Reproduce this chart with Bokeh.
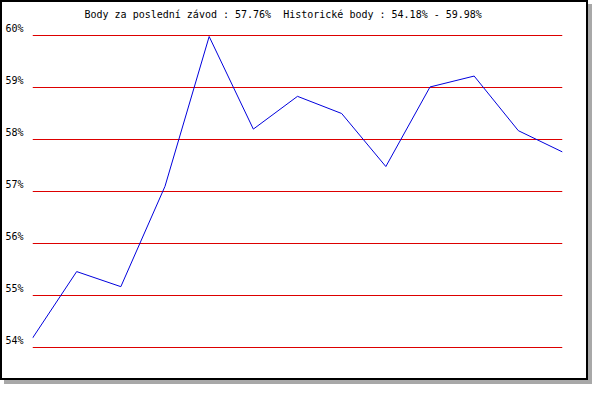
from bokeh.plotting import figure
from bokeh.models import FixedTicker, CustomJSTickFormatter, Range1d
from bokeh.core.properties import value
from bokeh.embed import file_html
from bokeh.resources import INLINE

# ---- data ----
races = list(range(1, 14))
points = [54.18, 55.46, 55.17, 57.10, 59.98, 58.20, 58.83, 58.50, 57.48, 59.01, 59.22, 58.17, 57.76]
y_ticks = [54, 55, 56, 57, 58, 59, 60]
title_text = "Body za poslední závod : 57.76%\u00a0 Historické body : 54.18% - 59.98%"

FONT = "DejaVu Sans Mono"
PX_PER_UNIT = 52.0

p = figure(width=588, height=380, output_backend="svg", toolbar_location=None,
           x_range=Range1d(1, 13),
           y_range=Range1d(54 - 1.0 / PX_PER_UNIT, 60 + 31.0 / PX_PER_UNIT),
           min_border_left=27, min_border_right=28, min_border_top=2, min_border_bottom=34)

p.styles = {"border": "2px solid black", "box-shadow": "4px 4px 0px #a8a8a8"}
p.background_fill_color = "white"
p.border_fill_color = "white"
p.outline_line_color = None

# title text, drawn inside the (invisible) upper part of the frame
p.text(x=[races[0]], y=[y_ticks[-1]], text=[title_text], x_offset=52, y_offset=-21.5,
       text_font=value(FONT), text_font_size="10px", text_color="black",
       text_align="left", text_baseline="middle")

p.line(races, points, line_color="#0000dd", line_width=1)

p.xaxis.visible = False
p.xgrid.grid_line_color = None
p.ygrid.grid_line_color = "#dd0000"
p.ygrid.grid_line_width = 1
p.ygrid.ticker = FixedTicker(ticks=y_ticks)

ya = p.yaxis[0]
ya.ticker = FixedTicker(ticks=y_ticks)
ya.formatter = CustomJSTickFormatter(code="return tick.toFixed(0) + '%\\n';")
ya.axis_line_color = None
ya.major_tick_line_color = None
ya.minor_tick_line_color = None
ya.major_label_text_font = FONT
ya.major_label_text_font_size = "10px"
ya.major_label_text_color = "black"
ya.major_label_standoff = 3

open("out.html", "w").write(file_html(p, INLINE))
